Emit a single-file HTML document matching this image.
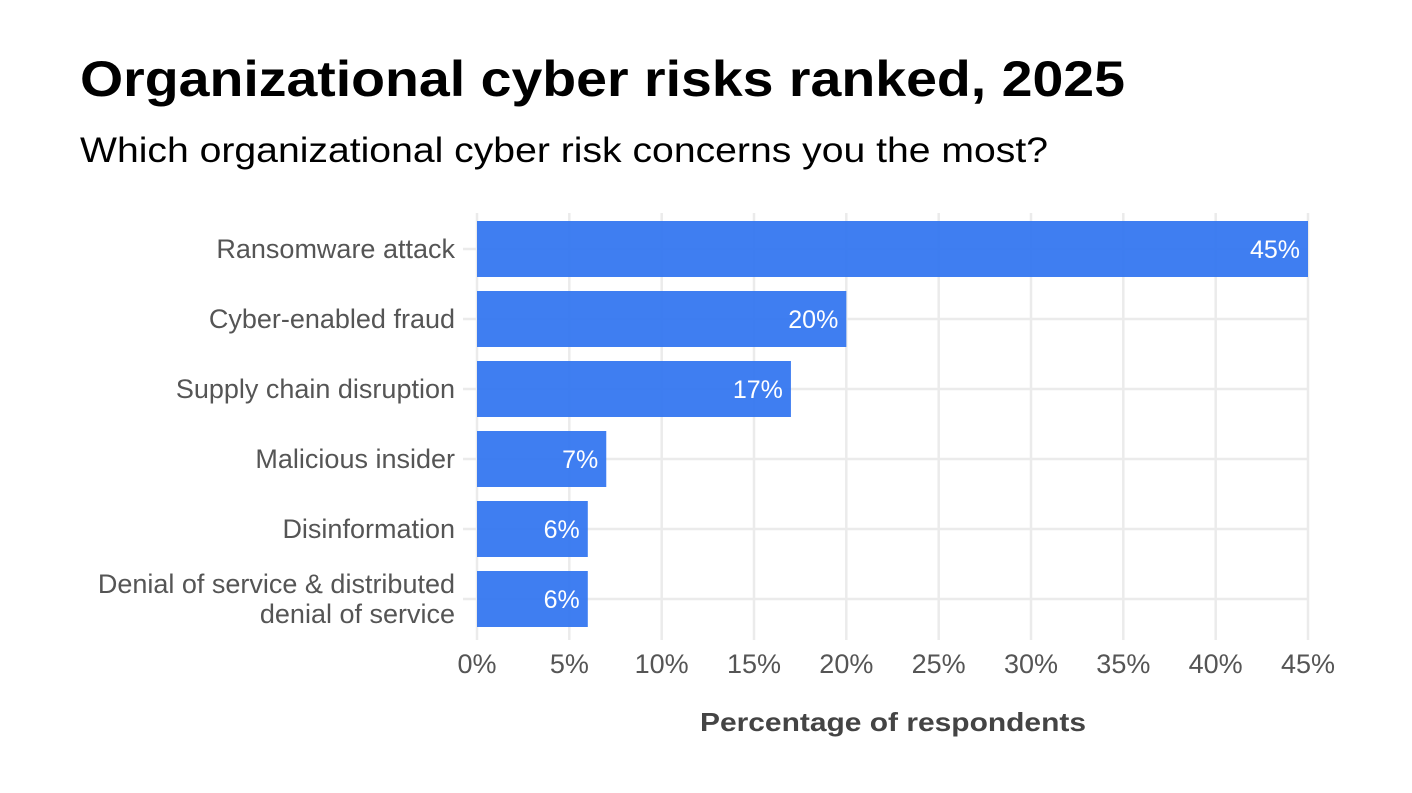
<!DOCTYPE html>
<html><head><meta charset="utf-8"><style>
body{margin:0;background:#fff;width:1412px;height:788px;overflow:hidden;font-family:"Liberation Sans",sans-serif}
</style></head><body>
<svg width="1412" height="788">
<text x="80" y="96" font-size="50" font-weight="bold" fill="#000" textLength="1045" lengthAdjust="spacingAndGlyphs">Organizational cyber risks ranked, 2025</text>
<text x="80" y="162" font-size="35" fill="#000" textLength="968" lengthAdjust="spacingAndGlyphs">Which organizational cyber risk concerns you the most?</text>
<g id="grid"></g>
<g id="bars"></g>
<g id="ylab"></g>
<g id="xlab"></g>
<text x="700" y="731" font-size="26" font-weight="bold" fill="#444" textLength="386" lengthAdjust="spacingAndGlyphs">Percentage of respondents</text>
</svg>
<script>
const categories=["Ransomware attack","Cyber-enabled fraud","Supply chain disruption","Malicious insider","Disinformation","Denial of service & distributed|denial of service"];
const values=[45,20,17,7,6,6];
const xTicks=[0,5,10,15,20,25,30,35,40,45];
const ns="http://www.w3.org/2000/svg";
const x0=477,x1=1308,xMax=45,plotTop=213,plotBottom=640,band=70,firstC=249;
const X=v=>x0+(v/xMax)*(x1-x0);
const Y=i=>firstC+i*band;
function mk(tag,attrs,parent){const e=document.createElementNS(ns,tag);for(const k in attrs)e.setAttribute(k,attrs[k]);document.getElementById(parent).appendChild(e);return e;}
xTicks.forEach(t=>{
 const l=mk('line',{x1:X(t),x2:X(t),y1:plotTop,y2:plotBottom,stroke:'#ebebeb','stroke-width':2.5},'grid');
 
 
 const tx=mk('text',{x:X(t),y:673,'font-size':27,fill:'#555','text-anchor':'middle'},'xlab');
 tx.textContent=t+'%';
 
 
});
categories.forEach((c,i)=>{
 const g=mk('line',{x1:463,x2:x1,y1:Y(i),y2:Y(i),stroke:'#ebebeb','stroke-width':2.5},'grid');
 
 
 const r=mk('rect',{x:x0,y:Y(i)-28,width:X(values[i])-x0,height:56,fill:'#2f73f0','fill-opacity':0.92},'bars');
 
 
 const v=mk('text',{x:X(values[i])-8,y:Y(i)+9,'font-size':25,fill:'#fff','text-anchor':'end'},'bars');
 v.textContent=values[i]+'%';
 
 
 const parts=c.split('|');
 parts.forEach((p,j)=>{
  const t=mk('text',{x:455,y:Y(i)+9+(j-(parts.length-1)/2)*30,'font-size':27,fill:'#555','text-anchor':'end'},'ylab');
  t.textContent=p;
  
  
 });
});
</script>
</body></html>
